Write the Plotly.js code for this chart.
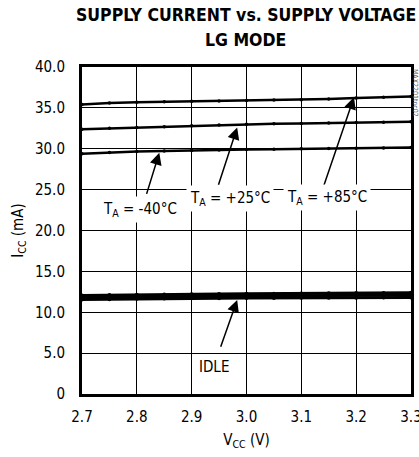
<!DOCTYPE html>
<html><head><meta charset="utf-8">
<script src="https://cdn.plot.ly/plotly-3.0.1.min.js"></script>
<style>
html,body{margin:0;padding:0;background:#fff;}
#chart{width:419px;height:457px;}
#chart text{font-stretch:condensed !important;}
</style>
</head><body><div id="chart"></div>
<script>
const vcc = [2.70, 2.75, 2.80, 2.85, 2.90, 2.95, 3.00, 3.05, 3.10, 3.15, 3.20, 3.25, 3.30];
const iccM40 = [29.40, 29.55, 29.65, 29.72, 29.80, 29.85, 29.90, 29.95, 30.00, 30.02, 30.05, 30.10, 30.15];
const iccP25 = [32.40, 32.50, 32.60, 32.70, 32.80, 32.90, 33.00, 33.05, 33.10, 33.15, 33.20, 33.25, 33.30];
const iccP85 = [35.40, 35.60, 35.70, 35.75, 35.80, 35.85, 35.90, 35.95, 36.00, 36.10, 36.20, 36.30, 36.40];
const idleLow = [11.55, 11.60, 11.65, 11.68, 11.70, 11.72, 11.74, 11.75, 11.76, 11.77, 11.78, 11.79, 11.80];
const idleMid = [11.80, 11.85, 11.90, 11.93, 11.95, 11.97, 12.00, 12.02, 12.04, 12.06, 12.07, 12.08, 12.10];
const idleHigh = [12.05, 12.10, 12.15, 12.18, 12.20, 12.23, 12.25, 12.27, 12.30, 12.33, 12.35, 12.37, 12.40];
const xTicks = [2.7, 2.8, 2.9, 3.0, 3.1, 3.2, 3.3];
const xTickText = ['2.7', '2.8', '2.9', '3.0', '3.1', '3.2', '3.3'];
const yTicks = [0, 5, 10, 15, 20, 25, 30, 35, 40];
const yTickText = ['0', '5.0', '10.0', '15.0', '20.0', '25.0', '30.0', '35.0', '40.0'];
const titleLines = ['SUPPLY CURRENT vs. SUPPLY VOLTAGE', 'LG MODE'];

const F = '"DejaVu Sans Condensed", "DejaVu Sans", sans-serif';

function tr(y, w) {
  return {x: vcc, y: y, type: 'scatter', mode: 'lines+markers',
    line: {color: '#000', width: w}, marker: {color: '#000', size: w + 1},
    hoverinfo: 'skip', showlegend: false};
}
const data = [tr(iccM40, 2.5), tr(iccP25, 2.5), tr(iccP85, 2.5),
  tr(idleLow, 3), tr(idleMid, 3), tr(idleHigh, 3)];

function lbl(x, y, html) {
  return {xref: 'x', yref: 'y', x: x, y: y, text: html, showarrow: false,
    bgcolor: '#fff', borderpad: 3, font: {family: F, size: 15, color: '#000'}};
}
function arr(x, y, ax, ay) {
  return {xref: 'x', yref: 'y', axref: 'x', ayref: 'y', x: x, y: y, ax: ax, ay: ay,
    text: '', showarrow: true, arrowhead: 2, arrowsize: 1.6, arrowwidth: 1.5, arrowcolor: '#000'};
}
function ttl(y, t) {
  return {xref: 'paper', yref: 'paper', x: 0.497, y: y, xanchor: 'center', yanchor: 'middle',
    text: '<b>' + t + '</b>', showarrow: false, font: {family: F, size: 17.5, color: '#000'}};
}
const annotations = [
  ttl(1.159, titleLines[0]), ttl(1.083, titleLines[1]),
  arr(2.841, 29.5, 2.817, 24.3), lbl(2.806, 22.6, 'T<sub>A</sub> = -40°C'),
  arr(2.983, 32.6, 2.948, 25.4), lbl(2.970, 23.9, 'T<sub>A</sub> = +25°C'),
  arr(3.196, 36.3, 3.140, 25.3), lbl(3.146, 24.0, 'T<sub>A</sub> = +85°C'),
  arr(2.983, 11.5, 2.952, 5.6), lbl(2.940, 3.3, 'IDLE'),
  {xref: 'paper', yref: 'paper', x: 1.0125, y: 1.0, xanchor: 'center', yanchor: 'top',
   text: 'MAX2201toc02', textangle: 90, showarrow: false,
   font: {family: F, size: 7, color: '#555'}}
];

const layout = {
  width: 419, height: 457,
  margin: {l: 82, r: 8, t: 67, b: 63},
  paper_bgcolor: '#fff', plot_bgcolor: '#fff',
  xaxis: {range: [2.7, 3.3], tickvals: xTicks, ticktext: xTickText, ticklabeloverflow: 'allow',
    ticklabelstandoff: 7,
    showgrid: true, gridcolor: '#000', gridwidth: 1, zeroline: false,
    showline: true, linecolor: '#000', linewidth: 3, mirror: true, ticks: '',
    tickfont: {family: F, size: 15, color: '#000'},
    title: {text: 'V<sub>CC</sub> (V)', font: {family: F, size: 15, color: '#000'}, standoff: 10}},
  yaxis: {range: [0, 40], tickvals: yTicks, ticktext: yTickText, ticklabeloverflow: 'allow',
    ticklabelstandoff: 11,
    showgrid: true, gridcolor: '#000', gridwidth: 1, zeroline: false,
    showline: true, linecolor: '#000', linewidth: 3, mirror: true, ticks: '',
    tickfont: {family: F, size: 15, color: '#000'},
    title: {text: 'I<sub>CC</sub> (mA)', font: {family: F, size: 15, color: '#000'}, standoff: 8}},
  annotations: annotations
};
Plotly.newPlot('chart', data, layout, {displayModeBar: false, staticPlot: true});
</script></body></html>
